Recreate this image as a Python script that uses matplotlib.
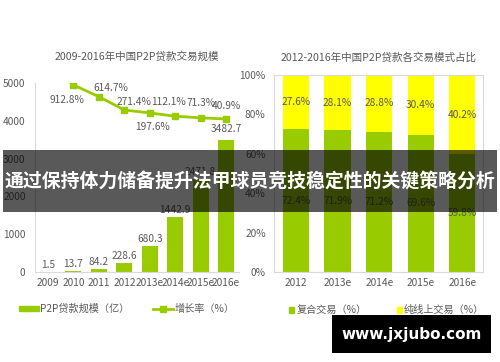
import numpy as np
import matplotlib.pyplot as plt
from matplotlib.patches import Rectangle
from matplotlib.lines import Line2D
from matplotlib.patches import Patch

plt.rcParams['font.family'] = ['Noto Sans CJK SC', 'DejaVu Sans']

### data ###
years_l = ['2009', '2010', '2011', '2012', '2013e', '2014e', '2015e', '2016e']
scale = [1.5, 13.7, 84.2, 228.6, 680.3, 1442.9, 2471.8, 3482.7]
growth = [912.8, 614.7, 271.4, 197.6, 112.1, 71.3, 40.9]   # 2010 .. 2016e

years_r = ['2012', '2013e', '2014e', '2015e', '2016e']
mixed = [72.4, 71.9, 71.2, 69.6, 59.8]
online = [27.6, 28.1, 28.8, 30.4, 40.2]

GREEN = '#99CC00'
YELLOW = '#FFFF00'
TXT = '#595959'
GRID = '#D9D9D9'

fig = plt.figure(figsize=(5, 3.62), dpi=100)

### left chart ###
ax = fig.add_axes([0.0706, 0.2486, 0.4068, 0.5221])
x = np.arange(len(years_l))
ax.bar(x, scale, width=0.63, color=GREEN, zorder=2)
ax.set_xlim(-0.5, len(years_l) - 0.5)
ax.set_ylim(0, 5000)
ax.set_yticks([0, 1000, 2000, 3000, 4000, 5000])
ax.set_xticks(x, years_l)
ax.tick_params(length=0, labelsize=7.3, colors=TXT, pad=4)
ax.tick_params(axis='y', pad=7)
for s in ['top', 'right']:
    ax.spines[s].set_visible(False)
for s in ['left', 'bottom']:
    ax.spines[s].set_color(GRID)
for i, v in enumerate(scale):
    if i == len(scale) - 1:
        ax.annotate(f'{v}', (i, v), xytext=(0, 6), textcoords='offset pixels',
                    ha='center', va='bottom', fontsize=7.3, color=TXT)
    else:
        ax.annotate(f'{v}', (i, v), xytext=(0, 2), textcoords='offset pixels',
                    ha='center', va='bottom', fontsize=7.3, color=TXT)
ax.set_title('2009-2016年中国P2P贷款交易规模', fontsize=7.6, color=TXT, pad=17)

ax2 = ax.twinx()
xg = x[1:]
ax2.plot(xg, growth, color=GREEN, lw=2, marker='s', ms=4, zorder=3)
ax2.set_ylim(-3882, 964)
ax2.axis('off')
offs = [(-6, -15), (12, 9), (10, 8), (3, -14), (-7, 14), (0, 15), (0, 13)]
for xi, v, o in zip(xg, growth, offs):
    ax2.annotate(f'{v}%', (xi, v), xytext=o, textcoords='offset pixels',
                 ha='center', va='center', fontsize=7.3, color=TXT)

h1 = [Patch(color=GREEN), Line2D([], [], color=GREEN, lw=2, marker='s', ms=4)]
ax.legend(h1, ['P2P贷款规模（亿）', '增长率（%）'], ncol=2, frameon=False,
          loc='center left', bbox_to_anchor=(-0.125, -0.195), fontsize=7.3,
          labelcolor=TXT, handlelength=2.0, handleheight=0.35, handletextpad=0.1,
          columnspacing=2.3)

### right chart ###
bx = fig.add_axes([0.548, 0.2486, 0.418, 0.5442])
xr = np.arange(len(years_r))
bx.bar(xr, mixed, width=0.63, color=GREEN, zorder=2)
bx.bar(xr, online, width=0.63, bottom=mixed, color=YELLOW, zorder=2)
bx.set_xlim(-0.53, len(years_r) - 0.5)
bx.set_ylim(0, 100)
bx.set_yticks([0, 20, 40, 60, 80, 100], ['0%', '20%', '40%', '60%', '80%', '100%'])
bx.set_xticks(xr, years_r)
bx.tick_params(length=0, labelsize=7.3, colors=TXT, pad=4)
bx.tick_params(axis='y', pad=6)
for s in bx.spines.values():
    s.set_color(GRID)
for i in range(len(years_r)):
    bx.text(i, mixed[i] / 2, f'{mixed[i]}%', ha='center', va='center',
            fontsize=7.3, color=TXT)
    bx.text(i, mixed[i] + online[i] / 2, f'{online[i]}%', ha='center', va='center',
            fontsize=7.3, color=TXT)
bx.set_title('2012-2016年中国P2P贷款各交易模式占比', fontsize=7.6, color=TXT, pad=10)

h2 = [Patch(color=GREEN), Patch(color=YELLOW)]
bx.legend(h2, ['复合交易（%）', '纯线上交易（%）'], ncol=2, frameon=False,
          loc='center left', bbox_to_anchor=(0.03, -0.195), fontsize=7.3,
          labelcolor=TXT, handlelength=0.5, handleheight=0.5, handletextpad=0.2,
          columnspacing=3.0)

### overlay banner ###
fig.add_artist(Rectangle((0.006, 0.4144), 0.988, 0.1713, transform=fig.transFigure,
                         facecolor='black', alpha=0.65, edgecolor='none', zorder=10))
fig.text(0.5, 1 - 182 / 362, '通过保持体力储备提升法甲球员竞技稳定性的关键策略分析',
         ha='center', va='center', fontsize=13.6, fontweight='bold', color='white',
         zorder=11)

### watermark ###
fig.add_artist(Rectangle((332 / 500, 1 - 353 / 362), 159 / 500, 38 / 362,
                         transform=fig.transFigure, facecolor='black',
                         edgecolor='none', zorder=10))
fig.text(411.5 / 500, 1 - 334 / 362, 'www.jxjubo.com', ha='center', va='center',
         fontsize=11, fontweight='bold', color='white', family='DejaVu Sans', zorder=11)

fig.savefig('out.png', dpi=100)
